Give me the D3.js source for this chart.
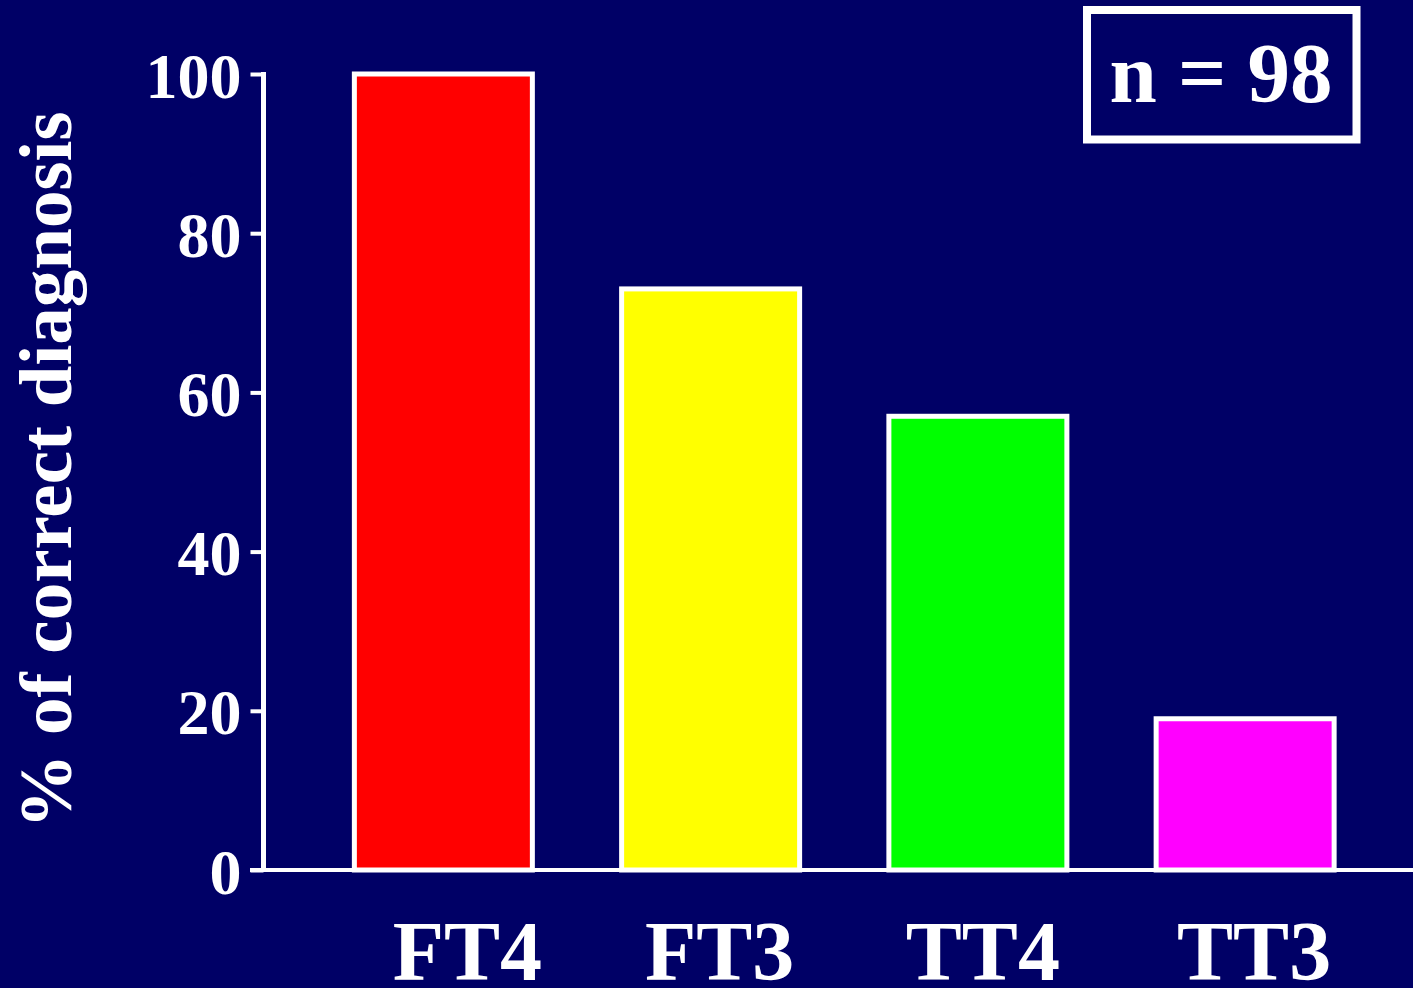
<!DOCTYPE html>
<html>
<head>
<meta charset="utf-8">
<script src="https://cdn.jsdelivr.net/npm/d3@7"></script>
<style>
  html, body { margin: 0; padding: 0; background: #000066; }
  svg { display: block; }
  text { font-family: "Liberation Serif", "Times New Roman", serif; font-weight: bold; fill: #ffffff; }
</style>
</head>
<body>
<svg id="chart" width="1413" height="988"></svg>
<script>
// Thyroid tests and share of correct diagnoses (%)
const tests = ["FT4", "FT3", "TT4", "TT3"];
const correctPct = [100, 73, 57, 19];
const barColors = ["#ff0000", "#ffff00", "#00ff00", "#ff00ff"];
const yTicks = [0, 20, 40, 60, 80, 100];
const sampleLabel = "n = 98";
const yTitle = "% of correct diagnosis";

const W = 1413, H = 988;
const svg = d3.select("#chart");
svg.append("rect").attr("width", W).attr("height", H).attr("fill", "#000066");

const axisX = 263.5;
const y = d3.scaleLinear().domain([0, 100]).range([870, 74]);
const x = d3.scaleBand().domain(tests).range([axisX, 1425])
  .paddingInner(0.334).paddingOuter(0.34);

// bars
svg.append("g").selectAll("rect")
  .data(tests.map((t, i) => ({ t, v: correctPct[i], c: barColors[i] })))
  .join("rect")
  .attr("x", d => x(d.t))
  .attr("width", x.bandwidth())
  .attr("y", d => y(d.v))
  .attr("height", d => y(0) - y(d.v))
  .attr("fill", d => d.c)
  .attr("stroke", "#ffffff")
  .attr("stroke-width", 5);

// y axis
const yAxis = svg.append("g").attr("transform", `translate(${axisX},0)`)
  .call(d3.axisLeft(y).tickValues(yTicks).tickSize(13).tickPadding(9).tickFormat(d3.format("d")));
yAxis.select(".domain").attr("stroke", "#ffffff").attr("stroke-width", 5)
  .attr("d", `M0,${y(100) - 2}V${y(0) + 2}`);
yAxis.selectAll(".tick line").attr("stroke", "#ffffff").attr("stroke-width", 4);
yAxis.selectAll(".tick text")
  .attr("fill", "#ffffff")
  .style("font-family", "'Liberation Serif', serif")
  .style("font-weight", "bold")
  .style("font-size", "64px")
  .attr("dy", "0.36em");

// x baseline
svg.append("line")
  .attr("x1", 250).attr("x2", W)
  .attr("y1", y(0)).attr("y2", y(0))
  .attr("stroke", "#ffffff").attr("stroke-width", 4);

// category labels
const labelNudge = [24, 9, 5, 9];
svg.append("g").selectAll("text")
  .data(tests)
  .join("text")
  .attr("x", (d, i) => x(d) + x.bandwidth() / 2 + labelNudge[i])
  .attr("y", 980)
  .attr("text-anchor", "middle")
  .style("font-size", "84px")
  .text(d => d);

// y title
svg.append("text")
  .attr("transform", `translate(71,${470}) rotate(-90)`)
  .attr("text-anchor", "middle")
  .style("font-size", "75px")
  .text(yTitle);

// sample size box
svg.append("rect")
  .attr("x", 1087).attr("y", 10)
  .attr("width", 269.5).attr("height", 129.5)
  .attr("fill", "none").attr("stroke", "#ffffff").attr("stroke-width", 8);
svg.append("text")
  .attr("x", 1221).attr("y", 102)
  .attr("text-anchor", "middle")
  .style("font-size", "85px")
  .text(sampleLabel);
</script>
</body>
</html>
